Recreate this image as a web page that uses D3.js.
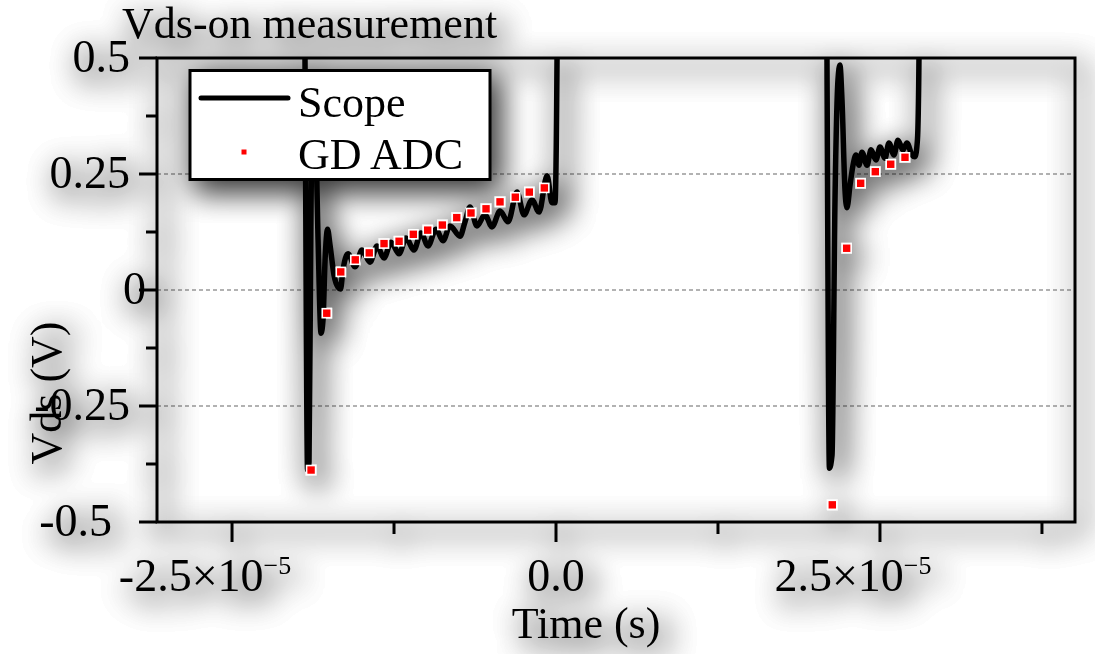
<!DOCTYPE html>
<html>
<head>
<meta charset="utf-8">
<script src="https://cdn.jsdelivr.net/npm/d3@7"></script>
<style>
  body { margin: 0; background: #fff; }
  svg { display: block; }
  text { font-family: "Liberation Serif", "Times New Roman", serif; fill: #000; }
</style>
</head>
<body>
<svg id="chart" width="1095" height="654"></svg>
<script>
// axis ticks
var yTicks = [-0.5, -0.25, 0, 0.25, 0.5];
var yTickLabels = ["-0.5", "-0.25", "0", "0.25", "0.5"];
var yMinor = [-0.375, -0.125, 0.125, 0.375];
var gridY = [-0.25, 0, 0.25];
var xTicks = [-2.5e-5, 0, 2.5e-5];
var xMinor = [-1.25e-5, 1.25e-5, 3.75e-5];

// Scope trace (time in microseconds, Vds in volts) - 1.0 means off the top of the plot
var scopeTimeUs = [-21.3, -19.48, -19.37, -19.17, -19.06, -18.90, -18.75, -18.56, -18.36, -18.13,
  -17.98, -17.82, -17.63, -17.44, -17.13, -16.82, -16.63, -16.44,
  -16.05, -15.51, -14.97, -14.35, -13.81, -13.27, -12.73, -12.11, -11.57, -10.96,
  -10.42, -9.88, -9.26, -8.72, -8.18, -7.41, -7.02, -6.64, -6.10, -5.48, -4.94,
  -4.32, -3.70, -3.01, -2.47, -1.85, -1.31, -0.69, -0.31, -0.08, 0.08, 0.15,
  20.83, 20.91, 21.10, 21.30, 21.53, 21.76, 21.91, 22.07, 22.30, 22.45, 22.69,
  22.92, 23.15, 23.38, 23.61, 24.00, 24.31, 24.69, 25.00, 25.39, 25.69, 26.08,
  26.39, 26.77, 27.08, 27.47, 27.70, 27.89, 28.01, 28.09, 42.0];
var scopeVds = [1.0, 1.0, 0.5, -0.388, -0.371, 0.194, 0.388, 0.345, 0.108, -0.093,
  -0.065, 0.065, 0.131, 0.097, 0.032, 0.006, 0.002, 0.043,
  0.078, 0.050, 0.086, 0.060, 0.095, 0.069, 0.103, 0.078, 0.112, 0.086,
  0.123, 0.095, 0.131, 0.106, 0.138, 0.116, 0.147, 0.179, 0.138, 0.162, 0.136,
  0.170, 0.147, 0.211, 0.162, 0.194, 0.168, 0.246, 0.188, 0.188, 0.5, 1.0,
  1.0, 0.5, -0.384, -0.356, 0.194, 0.453, 0.485, 0.409, 0.216, 0.177, 0.226,
  0.269, 0.291, 0.269, 0.297, 0.269, 0.302, 0.280, 0.308, 0.284, 0.317, 0.291,
  0.323, 0.302, 0.317, 0.291, 0.287, 0.323, 0.5, 1.0, 1.0];

// gate driver ADC samples
var adcTimeUs = [-18.90, -17.69, -16.61, -15.49, -14.41, -13.27, -12.11, -11.01, -9.90,
  -8.77, -7.66, -6.56, -5.40, -4.32, -3.14, -2.06, -0.90,
  21.32, 22.43, 23.51, 24.64, 25.83, 26.93];
var adcVds = [-0.388, -0.050, 0.039, 0.065, 0.080, 0.100, 0.105, 0.120, 0.129,
  0.140, 0.156, 0.166, 0.175, 0.190, 0.200, 0.211, 0.220,
  -0.463, 0.090, 0.230, 0.255, 0.271, 0.286];

var svg = d3.select("#chart");
var L = 157, R = 1075, T = 58, B = 522;
var fs = 44;
// right edge of each y tick label, in the same order as yTicks
var yLabelRight = [112, 130, 146, 130, 130];

var x = d3.scaleLinear().domain([-3.079e-5, 4.005e-5]).range([L, R]);
var y = d3.scaleLinear().domain([-0.5, 0.5]).range([B, T]);

var defs = svg.append("defs");
var f = defs.append("filter").attr("id", "shadow")
  .attr("filterUnits", "userSpaceOnUse")
  .attr("x", -60).attr("y", -60).attr("width", 1250).attr("height", 800);
f.append("feGaussianBlur").attr("in", "SourceAlpha").attr("stdDeviation", 14);
f.append("feOffset").attr("dx", 7).attr("dy", 9).attr("result", "off");
f.append("feComponentTransfer").attr("in", "off").attr("result", "soft")
  .append("feFuncA").attr("type", "gamma").attr("amplitude", 0.8).attr("exponent", 0.75);
var m = f.append("feMerge");
m.append("feMergeNode").attr("in", "soft");
m.append("feMergeNode").attr("in", "SourceGraphic");

defs.append("clipPath").attr("id", "plotclip")
  .append("rect").attr("x", L).attr("y", T).attr("width", R - L).attr("height", B - T);

// grid (no shadow)
svg.append("g").selectAll("line").data(gridY).enter().append("line")
  .attr("x1", L).attr("x2", R)
  .attr("y1", function(d) { return y(d); }).attr("y2", function(d) { return y(d); })
  .attr("stroke", "#999").attr("stroke-width", 1.3).attr("stroke-dasharray", "4,3");

var g = svg.append("g").attr("filter", "url(#shadow)");

function label(parent, tx, ty, str, anchor, size, rot) {
  var t = parent.append("text")
    .attr("transform", "translate(" + tx + "," + ty + ")" + (rot ? " rotate(" + rot + ")" : ""))
    .attr("text-anchor", anchor || "start")
    .attr("font-size", size || fs);
  if (str) t.text(str);
  return t;
}

// scope line
var line = d3.line()
  .x(function(d, i) { return x(scopeTimeUs[i] * 1e-6); })
  .y(function(d) { return y(d); })
  .curve(d3.curveMonotoneX);
g.append("path").datum(scopeVds)
  .attr("clip-path", "url(#plotclip)")
  .attr("d", line)
  .attr("fill", "none").attr("stroke", "#000").attr("stroke-width", 5.5)
  .attr("stroke-linejoin", "round").attr("stroke-linecap", "round");

// ADC points
g.append("g").selectAll("rect").data(adcVds).enter().append("rect")
  .attr("x", function(d, i) { return x(adcTimeUs[i] * 1e-6) - 4.5; })
  .attr("y", function(d) { return y(d) - 4.5; })
  .attr("width", 9).attr("height", 9)
  .attr("fill", "#ff0000").attr("stroke", "#fff").attr("stroke-width", 1.6);

// frame
g.append("rect").attr("x", L).attr("y", T).attr("width", R - L).attr("height", B - T)
  .attr("fill", "none").attr("stroke", "#000").attr("stroke-width", 3);

// y ticks
g.append("g").selectAll("line").data(yTicks).enter().append("line")
  .attr("x1", L - 18).attr("x2", L)
  .attr("y1", function(d) { return y(d); }).attr("y2", function(d) { return y(d); })
  .attr("stroke", "#000").attr("stroke-width", 3);
g.append("g").selectAll("line").data(yMinor).enter().append("line")
  .attr("x1", L - 11).attr("x2", L)
  .attr("y1", function(d) { return y(d); }).attr("y2", function(d) { return y(d); })
  .attr("stroke", "#000").attr("stroke-width", 3);
yTicks.forEach(function(d, i) {
  label(g, yLabelRight[i], y(d) + 14, yTickLabels[i], "end", 46);
});

// x ticks
g.append("g").selectAll("line").data(xTicks).enter().append("line")
  .attr("x1", function(d) { return x(d); }).attr("x2", function(d) { return x(d); })
  .attr("y1", B).attr("y2", B + 20)
  .attr("stroke", "#000").attr("stroke-width", 3);
g.append("g").selectAll("line").data(xMinor).enter().append("line")
  .attr("x1", function(d) { return x(d); }).attr("x2", function(d) { return x(d); })
  .attr("y1", B).attr("y2", B + 12)
  .attr("stroke", "#000").attr("stroke-width", 3);
xTicks.forEach(function(d) {
  if (d === 0) {
    label(g, x(d), 591, "0.0", "middle", 46);
  } else {
    var t = label(g, x(d) - 27, 591, null, "middle", 46);
    var e = d3.format(".1e")(d).replace("\u2212", "-").split("e");
    t.append("tspan").text(e[0] + "\u00d710");
    t.append("tspan").attr("font-size", 26).attr("dy", -17).text("\u2212" + (+e[1] * -1));
  }
});

// axis titles
label(g, 586, 638, "Time (s)", "middle");
label(g, 61, 393, "Vds (V)", "middle", 44, -90);
label(g, 122, 38, "Vds-on measurement", "start");

// legend
var lg = g.append("g");
lg.append("rect").attr("x", 190).attr("y", 70.5).attr("width", 300).attr("height", 109)
  .attr("fill", "#fff").attr("stroke", "#000").attr("stroke-width", 3);
lg.append("line").attr("x1", 201).attr("x2", 288).attr("y1", 98).attr("y2", 98)
  .attr("stroke", "#000").attr("stroke-width", 5).attr("stroke-linecap", "round");
lg.append("rect").attr("x", 241.5).attr("y", 149.5).attr("width", 5).attr("height", 5).attr("fill", "#ff0000");
label(lg, 298, 117, "Scope", "start");
label(lg, 298, 169, "GD ADC", "start");
</script>
</body>
</html>
